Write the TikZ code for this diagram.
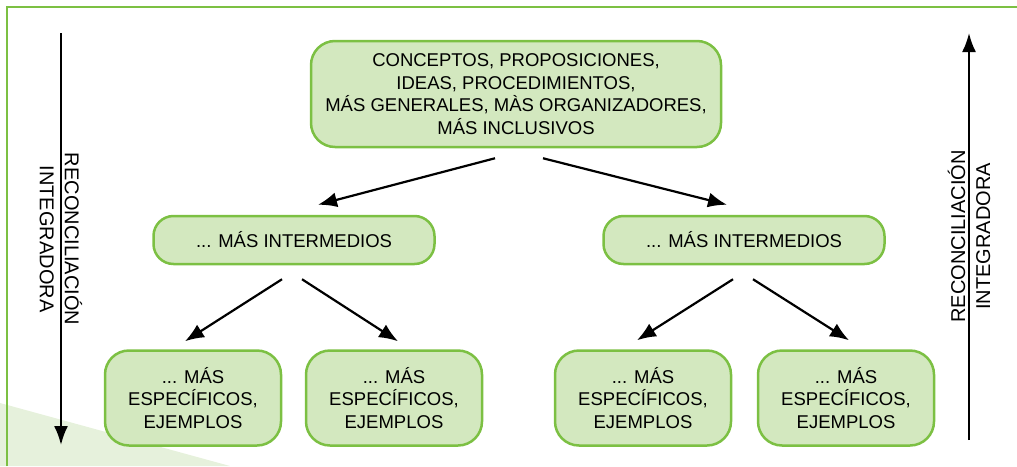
\documentclass[tikz,border=0pt]{standalone}
\usepackage{fontspec}
\setmainfont{Liberation Sans}
\usetikzlibrary{arrows.meta,positioning}
\tikzset{>=Latex}
\definecolor{box-fill}{HTML}{D3E8BF}
\definecolor{box-line}{HTML}{7CC043}
\definecolor{corner-fill}{HTML}{E6F1DC}

\begin{document}
\begin{tikzpicture}[x=1pt, y=-1pt,
                every node/.append style={align=center, font=\fontsize{18.5}{22.7}\selectfont},
                box/.style={draw=box-line, fill=box-fill, line width=2.5pt, inner sep=0pt},
                topbox/.style={box, minimum width=410pt, minimum height=106pt, rounded corners=24pt},
                midbox/.style={box, minimum width=281pt, minimum height=48pt, rounded corners=20pt},
                leafbox/.style={box, minimum width=176pt, minimum height=95pt, rounded corners=24pt},
                link/.style={-{Latex[length=19pt,width=15pt]}, line width=2.2pt},
                side/.style={-{Latex[length=19pt,width=14pt]}, line width=2.2pt},
                sidelabel/.style={font=\fontsize{20}{25}\selectfont}]

               \useasboundingbox (0,0) rectangle (1017,466);
               \fill[corner-fill] (0,403) -- (230,466) -- (0,466) -- cycle;
               \draw[box-line, line width=2.5pt] (7,466) -- (7,7) -- (1017,7);

               \node [topbox] (top) at (516,94)
                     {CONCEPTOS, PROPOSICIONES,\\ IDEAS, PROCEDIMIENTOS,\\ MÁS GENERALES, MÀS ORGANIZADORES,\\ MÁS INCLUSIVOS};
               \node [midbox] (midL) at (294,240) {... MÁS INTERMEDIOS};
               \node [midbox] (midR) at (744,240) {... MÁS INTERMEDIOS};
               \node [leafbox] (leafA) at (193,398) {... MÁS\\ ESPECÍFICOS,\\ EJEMPLOS};
               \node [leafbox] (leafB) at (394,398) {... MÁS\\ ESPECÍFICOS,\\ EJEMPLOS};
               \node [leafbox] (leafC) at (643,398) {... MÁS\\ ESPECÍFICOS,\\ EJEMPLOS};
               \node [leafbox] (leafD) at (846,398) {... MÁS\\ ESPECÍFICOS,\\ EJEMPLOS};

               \draw[link] ([shift={(-21,10)}]top.south) -- ([shift={(24,-10)}]midL.north);
               \draw[link] ([shift={(27,10)}]top.south) -- ([shift={(-17,-10)}]midR.north);
               \draw[link] ([shift={(-12,14)}]midL.south) -- ([shift={(-8,-8)}]leafA.north);
               \draw[link] ([shift={(8,14)}]midL.south) -- ([shift={(4,-8)}]leafB.north);
               \draw[link] ([shift={(-11,14)}]midR.south) -- ([shift={(-6,-9)}]leafC.north);
               \draw[link] ([shift={(9,14)}]midR.south) -- ([shift={(3,-9)}]leafD.north);

               \coordinate (downA) at (61,33);
               \coordinate (downB) at (61,445);
               \coordinate (upA) at (969,440);
               \coordinate (upB) at (969,33);
               \draw[side] (downA) -- node [sidelabel, rotate=-90, pos=0.5] {RECONCILIACIÓN\\ INTEGRADORA} (downB);
               \draw[side] (upA) -- node [sidelabel, rotate=90, pos=0.5] {RECONCILIACIÓN\\ INTEGRADORA} (upB);
        \end{tikzpicture}
\end{document}
